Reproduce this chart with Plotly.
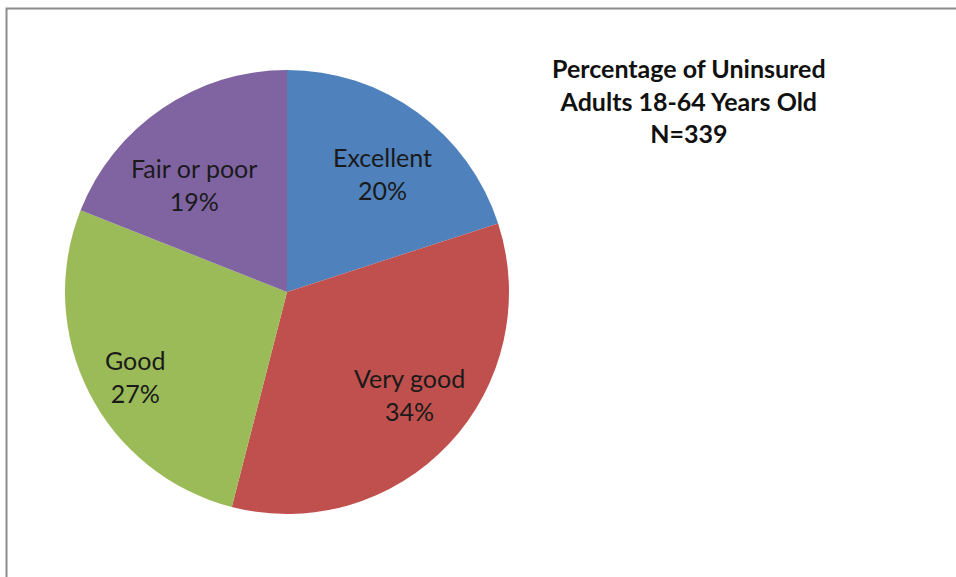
import math
import plotly.graph_objects as go

# Health status shares of uninsured adults (percent)
categories = ["Excellent", "Very good", "Good", "Fair or poor"]
shares = [20, 34, 27, 19]
slice_colors = ["#4F81BD", "#C0504D", "#9BBB59", "#8064A2"]
title_lines = ["Percentage of Uninsured", "Adults 18-64 Years Old", "N=339"]

W, H = 956, 577
cx, cy, R = 287, 292, 222  # pie centre and radius in pixels

fig = go.Figure(
    go.Pie(
        labels=categories,
        values=shares,
        marker=dict(colors=slice_colors, line=dict(width=0)),
        sort=False,
        direction="clockwise",
        rotation=0,
        textinfo="none",
        hoverinfo="label+percent",
        showlegend=False,
        domain=dict(x=[(cx - R) / W, (cx + R) / W],
                    y=[(H - cy - R) / H, (H - cy + R) / H]),
    )
)

# Category / percentage labels near each slice's mid angle
# (radius as a fraction of the pie radius, small angular nudge in degrees)
label_radius = [0.685, 0.72, 0.784, 0.64]
label_nudge = [3.0, -3.3, -2.2, -6.8]
total = sum(shares)
cum = 0
for name, v, rr, dn in zip(categories, shares, label_radius, label_nudge):
    mid = (cum + v / 2) / total * 2 * math.pi + math.radians(dn)
    cum += v
    px = cx + rr * R * math.sin(mid)
    py = cy - rr * R * math.cos(mid)
    fig.add_annotation(
        x=px / W, y=1 - py / H, xref="paper", yref="paper",
        text=f"{name}<br>{round(v / total * 100)}%",
        showarrow=False, xanchor="center", yanchor="middle",
        font=dict(family="Lato", size=25, color="#1a1a1a"),
    )

# Chart title block on the right
fig.add_annotation(
    x=689 / W, y=1 - 101 / H, xref="paper", yref="paper",
    text="<br>".join(title_lines),
    showarrow=False, xanchor="center", yanchor="middle", align="center",
    font=dict(family="Lato", size=25, color="#111111", weight="bold"),
)

# Chart-area frame (runs off the right and bottom edges)
fig.add_shape(
    type="rect", xref="paper", yref="paper",
    x0=6.5 / W, x1=1.01, y0=-0.01, y1=1 - 8.5 / H,
    line=dict(color="#8c8c8c", width=2), fillcolor="rgba(0,0,0,0)",
)

fig.update_layout(
    width=W, height=H,
    margin=dict(l=0, r=0, t=0, b=0),
    paper_bgcolor="white", plot_bgcolor="white",
)

fig.write_html("out.html")
